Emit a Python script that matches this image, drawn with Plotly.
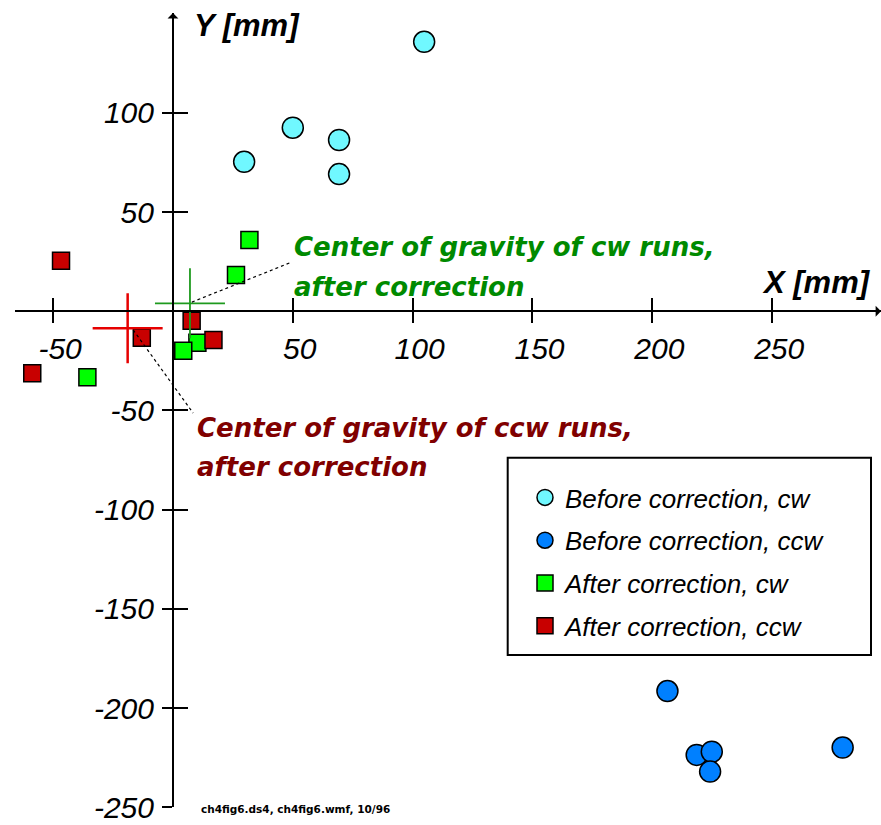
import plotly.graph_objects as go

# ---------------- data ----------------
before_cw_x = [104.8, 50.0, 69.3, 69.3, 29.7]
before_cw_y = [135.8, 92.5, 86.3, 69.1, 75.3]

before_ccw_x = [206.3, 218.5, 224.8, 224.1, 279.4]
before_ccw_y = [-191.4, -223.6, -222.0, -232.0, -219.9]

after_cw_x = [31.9, 26.3, 10.2, 4.3, -35.7]
after_cw_y = [35.9, 18.2, -15.9, -19.9, -33.3]

after_ccw_x = [-46.7, -58.7, -13.0, 7.8, 16.9]
after_ccw_y = [25.4, -31.3, -13.4, -4.8, -14.5]

cog_cw = (7.1, 4.0)      # centre of gravity, cw runs, after correction
cog_ccw = (-18.9, -8.6)  # centre of gravity, ccw runs, after correction

x_ticks = [-50, 50, 100, 150, 200, 250]
y_ticks = [100, 50, -50, -100, -150, -200, -250]

legend_names = ["Before correction, cw", "Before correction, ccw",
                "After correction, cw", "After correction, ccw"]

# ---------------- layout geometry ----------------
W, H = 881, 825
x_range = [-65.9, 295.4]
y_range = [-250.0, 150.3]
x_dom = [15 / W, 1.0]
y_dom = [(H - 807.3) / H, (H - 13) / H]

x_axis_pos = y_dom[0] + (0 - y_range[0]) / (y_range[1] - y_range[0]) * (y_dom[1] - y_dom[0])
y_axis_pos = x_dom[0] + (0 - x_range[0]) / (x_range[1] - x_range[0]) * (x_dom[1] - x_dom[0])

CYAN = "#70F8FF"
BLUE = "#0080FF"
GREEN = "#00FF00"
RED = "#C80000"
TXT_GREEN = "#008A00"
TXT_RED = "#800000"

tick_font = dict(family="Liberation Sans", size=30, color="black", style="italic")

fig = go.Figure()

fig.add_trace(go.Scatter(
    x=before_cw_x, y=before_cw_y, mode="markers", name=legend_names[0], legendgroup="a",
    marker=dict(symbol="circle", size=21, color=CYAN, line=dict(color="black", width=1.5))))
fig.add_trace(go.Scatter(
    x=before_ccw_x, y=before_ccw_y, mode="markers", name=legend_names[1], legendgroup="b",
    marker=dict(symbol="circle", size=21, color=BLUE, line=dict(color="black", width=1.5))))
fig.add_trace(go.Scatter(
    x=after_cw_x, y=after_cw_y, mode="markers", name=legend_names[2], legendgroup="c",
    marker=dict(symbol="square", size=17, color=GREEN, line=dict(color="black", width=1.5))))
fig.add_trace(go.Scatter(
    x=after_ccw_x, y=after_ccw_y, mode="markers", name=legend_names[3], legendgroup="d",
    marker=dict(symbol="square", size=17, color=RED, line=dict(color="black", width=1.5))))

# centre-of-gravity crosses
fig.add_trace(go.Scatter(
    x=[cog_ccw[0]], y=[cog_ccw[1]], mode="markers", showlegend=False, hoverinfo="skip",
    marker=dict(symbol="cross-thin", size=50, line=dict(color="#E60000", width=2.5))))
fig.add_trace(go.Scatter(
    x=[cog_cw[0]], y=[cog_cw[1]], mode="markers", showlegend=False, hoverinfo="skip",
    marker=dict(symbol="cross-thin", size=50, line=dict(color="#1E9A1E", width=1.8))))

# dummy trace for the overlay axes (inner half of the crossing ticks)
fig.add_trace(go.Scatter(x=[None], y=[None], xaxis="x2", yaxis="y2",
                         showlegend=False, hoverinfo="skip"))

# leader lines
fig.add_shape(type="line", x0=cog_cw[0] + 0.8, y0=cog_cw[1] + 0.6, x1=49.6, y1=24.8,
              line=dict(color="black", width=1.2, dash="dot"))
fig.add_shape(type="line", x0=cog_ccw[0] + 2.3, y0=cog_ccw[1] - 0.8, x1=8.4, y1=-51.3,
              line=dict(color="black", width=1.2, dash="dot"))

# legend frame
fig.add_shape(type="rect", xref="paper", yref="paper",
              x0=507.7 / W, x1=871 / W, y0=1 - 655 / H, y1=1 - 457.7 / H,
              line=dict(color="black", width=2), fillcolor="rgba(0,0,0,0)")

ann_font = dict(family="DejaVu Sans", size=26, weight="bold", style="italic")
annotations = [
    dict(x=49.7, y=32.3, text="Center of gravity of cw runs,", font=dict(**ann_font, color=TXT_GREEN)),
    dict(x=49.7, y=12.2, text="after correction", font=dict(**ann_font, color=TXT_GREEN)),
    dict(x=9.2, y=-58.8, text="Center of gravity of ccw runs,", font=dict(**ann_font, color=TXT_RED)),
    dict(x=9.2, y=-78.5, text="after correction", font=dict(**ann_font, color=TXT_RED)),
    dict(x=8.0, y=144.2, text="Y [mm]",
         font=dict(family="Liberation Sans", size=31, weight="bold", style="italic", color="black")),
    dict(x=245.0, y=14.7, text="X [mm]",
         font=dict(family="Liberation Sans", size=31, weight="bold", style="italic", color="black")),
]
for a in annotations:
    fig.add_annotation(xref="x", yref="y", xanchor="left", yanchor="middle",
                       showarrow=False, **a)

# small file-name stamp at the bottom
fig.add_annotation(xref="paper", yref="paper", x=199 / W, y=1 - 809 / H,
                   xanchor="left", yanchor="middle", showarrow=False,
                   text="ch4fig6.ds4, ch4fig6.wmf, 10/96",
                   font=dict(family="DejaVu Sans", size=10.5, weight="bold", color="black"))

# axis arrowheads
fig.add_annotation(x=0, y=y_range[1], ax=0, ay=y_range[1] - 8, xref="x", yref="y",
                   axref="x", ayref="y", text="", showarrow=True, arrowhead=1,
                   arrowsize=1.2, arrowwidth=1.5, arrowcolor="black")
fig.add_annotation(x=x_range[1], y=0, ax=x_range[1] - 6, ay=0, xref="x", yref="y",
                   axref="x", ayref="y", text="", showarrow=True, arrowhead=1,
                   arrowsize=1.2, arrowwidth=1.5, arrowcolor="black")

common = dict(showgrid=False, zeroline=False, fixedrange=True, automargin=False)

fig.update_layout(
    width=W, height=H,
    margin=dict(l=0, r=0, t=0, b=0, autoexpand=False),
    paper_bgcolor="white", plot_bgcolor="white",
    showlegend=True,
    legend=dict(x=525 / W, y=1 - 474 / H, xanchor="left", yanchor="top",
                bgcolor="rgba(0,0,0,0)", borderwidth=0, traceorder="grouped",
                tracegroupgap=6,
                font=dict(family="Liberation Sans", size=26, color="black", style="italic")),
    xaxis=dict(range=x_range, domain=x_dom, anchor="free", position=x_axis_pos,
               showline=True, linecolor="black", linewidth=2,
               ticks="outside", ticklen=11, tickwidth=1.5, tickcolor="black",
               tickvals=x_ticks, ticktext=[str(v) for v in x_ticks],
               tickfont=tick_font, ticklabelshift=7, ticklabelstandoff=0, **common),
    yaxis=dict(range=y_range, domain=y_dom, anchor="free", position=y_axis_pos,
               showline=True, linecolor="black", linewidth=2,
               ticks="outside", ticklen=10, tickwidth=1.5, tickcolor="black",
               tickvals=y_ticks, ticktext=[str(v) for v in y_ticks],
               tickfont=tick_font, ticklabelshift=0, ticklabelstandoff=2, **common),
    xaxis2=dict(range=x_range, overlaying="x", anchor="free", position=x_axis_pos,
                showline=False, ticks="inside", ticklen=13, tickwidth=1.5, tickcolor="black",
                tickvals=x_ticks, showticklabels=False, **common),
    yaxis2=dict(range=y_range, overlaying="y", anchor="free", position=y_axis_pos,
                showline=False, ticks="inside", ticklen=14, tickwidth=1.5, tickcolor="black",
                tickvals=y_ticks, showticklabels=False, **common),
)

fig.write_html("out.html")
